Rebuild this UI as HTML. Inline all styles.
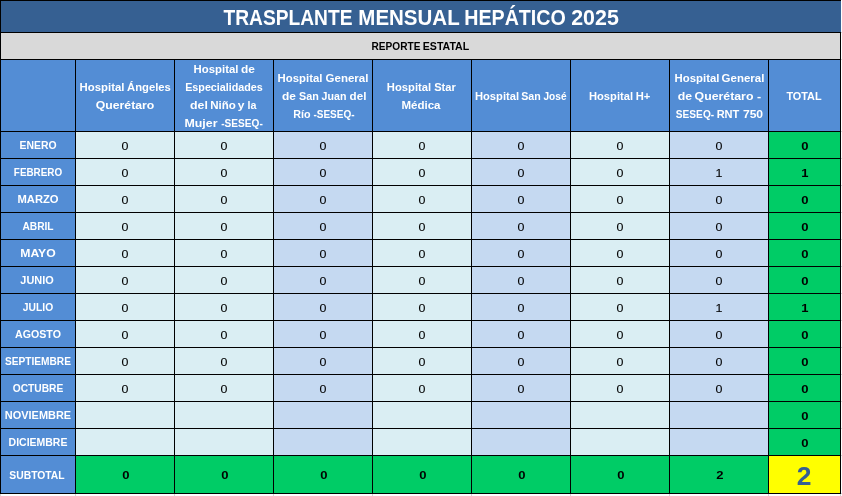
<!DOCTYPE html>
<html lang="es">
<head>
<meta charset="utf-8">
<title>Trasplante mensual hepático 2025</title>
<style>
html,body{margin:0;padding:0;background:#fff;}
body{width:842px;height:496px;overflow:hidden;position:relative;font-family:"Liberation Sans",sans-serif;}
/* 1px black grid lines = the black background showing through 1px gaps */
#t{position:absolute;left:0;top:0;width:839px;height:492px;padding:1px;background:#000;
 display:grid;gap:1px;
 grid-template-columns:74px repeat(7,98px) 71px;
 grid-template-rows:31px 26px 71px repeat(12,26px) 37px;}
#t>div{position:relative;overflow:hidden;}
.l{position:absolute;left:0;right:0;white-space:nowrap;font-weight:700;}
.l i{position:absolute;top:0;display:block;font-style:normal;transform-origin:50% 50%;}
.r{font-weight:400;-webkit-text-stroke:0.1px #000;}
.ti{grid-column:1/-1;background:#366092;color:#fff;margin-right:-1px;}
.re{grid-column:1/-1;background:#d9d9d9;color:#000;}
.h{background:#538dd5;color:#fff;}
.a{background:#daeef3;color:#000;}
.b{background:#c5d9f1;color:#000;}
.g{background:#00cc66;color:#000;}
.y{background:#ffff00;color:#366092;}
/* faint sheet gridlines peeking out past the table edge */
.gb{position:absolute;left:0;top:494px;width:1px;height:2px;background:#d4d4d4;box-shadow:75px 0 0 #d4d4d4,174px 0 0 #d4d4d4,273px 0 0 #d4d4d4,372px 0 0 #d4d4d4,471px 0 0 #d4d4d4,570px 0 0 #d4d4d4,669px 0 0 #d4d4d4,768px 0 0 #d4d4d4,840px 0 0 #d4d4d4;}
.gr{position:absolute;left:841px;top:32px;width:1px;height:1px;background:#d4d4d4;box-shadow:0 27px 0 #d4d4d4,0 99px 0 #d4d4d4,0 126px 0 #d4d4d4,0 153px 0 #d4d4d4,0 180px 0 #d4d4d4,0 207px 0 #d4d4d4,0 234px 0 #d4d4d4,0 261px 0 #d4d4d4,0 288px 0 #d4d4d4,0 315px 0 #d4d4d4,0 342px 0 #d4d4d4,0 369px 0 #d4d4d4,0 396px 0 #d4d4d4,0 423px 0 #d4d4d4,0 461px 0 #d4d4d4;}
</style>
</head>
<body>
<div id="t">
<div class="ti"><span class="l" style="top:3px;height:27px;line-height:27px;font-size:22.5px"><i style="left:286.77px;transform:translateX(-50%) scaleX(0.8529)">TRASPLANTE</i> <i style="left:407.64px;transform:translateX(-50%) scaleX(0.9111)">MENSUAL</i> <i style="left:514.49px;transform:translateX(-50%) scaleX(0.8737)">HEPÁTICO</i> <i style="left:594.05px;transform:translateX(-50%) scaleX(0.9512)">2025</i></span></div>
<div class="re"><span class="l" style="top:6px;height:14px;line-height:14px;font-size:11.58px"><i style="left:394.75px;transform:translateX(-50%) scaleX(0.8733)">REPORTE</i> <i style="left:445.45px;transform:translateX(-50%) scaleX(0.9155)">ESTATAL</i></span></div>
<div class="h"></div>
<div class="h"><span class="l" style="top:20px;height:14px;line-height:14px;font-size:11.58px"><i style="left:26.08px;transform:translateX(-50%) scaleX(0.9823)">Hospital</i> <i style="left:72.74px;transform:translateX(-50%) scaleX(0.9717)">Ángeles</i></span> <span class="l" style="top:38px;height:14px;line-height:14px;font-size:11.58px"><i style="left:49.15px;transform:translateX(-50%) scaleX(1.0581)">Querétaro</i></span></div>
<div class="h"><span class="l" style="top:2px;height:14px;line-height:14px;font-size:11.58px"><i style="left:40.5px;transform:translateX(-50%) scaleX(0.9810)">Hospital</i> <i style="left:72.55px;transform:translateX(-50%) scaleX(1.0285)">de</i></span> <span class="l" style="top:20px;height:14px;line-height:14px;font-size:11.58px"><i style="left:48.6px;transform:translateX(-50%) scaleX(0.9275)">Especialidades</i></span> <span class="l" style="top:38px;height:14px;line-height:14px;font-size:11.58px"><i style="left:23.66px;transform:translateX(-50%) scaleX(1.0644)">del</i> <i style="left:47.96px;transform:translateX(-50%) scaleX(0.9969)">Niño</i> <i style="left:66.34px;transform:translateX(-50%) scaleX(1.0356)">y</i> <i style="left:77.16px;transform:translateX(-50%) scaleX(0.9229)">la</i></span> <span class="l" style="top:56px;height:14px;line-height:14px;font-size:11.58px"><i style="left:26.25px;transform:translateX(-50%) scaleX(1.0675)">Mujer</i> <i style="left:66.5px;transform:translateX(-50%) scaleX(0.8731)">-SESEQ-</i></span></div>
<div class="h"><span class="l" style="top:11px;height:14px;line-height:14px;font-size:11.58px"><i style="left:26.3px;transform:translateX(-50%) scaleX(0.9802)">Hospital</i> <i style="left:73.13px;transform:translateX(-50%) scaleX(0.9917)">General</i></span> <span class="l" style="top:29px;height:14px;line-height:14px;font-size:11.58px"><i style="left:14.73px;transform:translateX(-50%) scaleX(1.0290)">de</i> <i style="left:34.86px;transform:translateX(-50%) scaleX(0.9308)">San</i> <i style="left:59.85px;transform:translateX(-50%) scaleX(0.9166)">Juan</i> <i style="left:83.74px;transform:translateX(-50%) scaleX(1.0015)">del</i></span> <span class="l" style="top:47px;height:14px;line-height:14px;font-size:11.58px"><i style="left:27.76px;transform:translateX(-50%) scaleX(0.9273)">Río</i> <i style="left:60.01px;transform:translateX(-50%) scaleX(0.8662)">-SESEQ-</i></span></div>
<div class="h"><span class="l" style="top:20px;height:14px;line-height:14px;font-size:11.58px"><i style="left:36.25px;transform:translateX(-50%) scaleX(0.9693)">Hospital</i> <i style="left:72.25px;transform:translateX(-50%) scaleX(0.9592)">Star</i></span> <span class="l" style="top:38px;height:14px;line-height:14px;font-size:11.58px"><i style="left:48.28px;transform:translateX(-50%) scaleX(0.9957)">Médica</i></span></div>
<div class="h"><span class="l" style="top:29px;height:14px;line-height:14px;font-size:11.58px"><i style="left:24.52px;transform:translateX(-50%) scaleX(0.9645)">Hospital</i> <i style="left:59.33px;transform:translateX(-50%) scaleX(0.9189)">San</i> <i style="left:83.45px;transform:translateX(-50%) scaleX(0.8714)">José</i></span></div>
<div class="h"><span class="l" style="top:29px;height:14px;line-height:14px;font-size:11.58px"><i style="left:40.35px;transform:translateX(-50%) scaleX(0.9638)">Hospital</i> <i style="left:72.1px;transform:translateX(-50%) scaleX(0.9666)">H+</i></span></div>
<div class="h"><span class="l" style="top:11px;height:14px;line-height:14px;font-size:11.58px"><i style="left:26.64px;transform:translateX(-50%) scaleX(0.9802)">Hospital</i> <i style="left:72.67px;transform:translateX(-50%) scaleX(0.9917)">General</i></span> <span class="l" style="top:29px;height:14px;line-height:14px;font-size:11.58px"><i style="left:14.96px;transform:translateX(-50%) scaleX(1.0603)">de</i> <i style="left:54.2px;transform:translateX(-50%) scaleX(1.0626)">Querétaro</i> <i style="left:88.7px;transform:translateX(-50%) scaleX(1.0754)">-</i></span> <span class="l" style="top:47px;height:14px;line-height:14px;font-size:11.58px"><i style="left:24.57px;transform:translateX(-50%) scaleX(0.8749)">SESEQ-</i> <i style="left:58.45px;transform:translateX(-50%) scaleX(0.9556)">RNT</i> <i style="left:82.66px;transform:translateX(-50%) scaleX(1.0447)">750</i></span></div>
<div class="h"><span class="l" style="top:29px;height:14px;line-height:14px;font-size:11.58px"><i style="left:35.41px;transform:translateX(-50%) scaleX(0.9377)">TOTAL</i></span></div>
<div class="h"><span class="l" style="top:6px;height:14px;line-height:14px;font-size:11.58px"><i style="left:36.51px;transform:translateX(-50%) scaleX(0.8995)">ENERO</i></span></div> <div class="a"><span class="l r" style="top:7px;height:14px;line-height:14px;font-size:11.58px"><i style="left:49px;transform:translateX(-50%) scaleX(1.0742)">0</i></span></div> <div class="a"><span class="l r" style="top:7px;height:14px;line-height:14px;font-size:11.58px"><i style="left:49px;transform:translateX(-50%) scaleX(1.0742)">0</i></span></div> <div class="b"><span class="l r" style="top:7px;height:14px;line-height:14px;font-size:11.58px"><i style="left:49px;transform:translateX(-50%) scaleX(1.0742)">0</i></span></div> <div class="a"><span class="l r" style="top:7px;height:14px;line-height:14px;font-size:11.58px"><i style="left:49px;transform:translateX(-50%) scaleX(1.0742)">0</i></span></div> <div class="b"><span class="l r" style="top:7px;height:14px;line-height:14px;font-size:11.58px"><i style="left:49px;transform:translateX(-50%) scaleX(1.0742)">0</i></span></div> <div class="a"><span class="l r" style="top:7px;height:14px;line-height:14px;font-size:11.58px"><i style="left:49px;transform:translateX(-50%) scaleX(1.0742)">0</i></span></div> <div class="b"><span class="l r" style="top:7px;height:14px;line-height:14px;font-size:11.58px"><i style="left:49px;transform:translateX(-50%) scaleX(1.0742)">0</i></span></div> <div class="g"><span class="l" style="top:7px;height:14px;line-height:14px;font-size:11.58px"><i style="left:35.8px;transform:translateX(-50%) scaleX(1.1254)">0</i></span></div>
<div class="h"><span class="l" style="top:6px;height:14px;line-height:14px;font-size:11.58px"><i style="left:37.23px;transform:translateX(-50%) scaleX(0.8535)">FEBRERO</i></span></div> <div class="a"><span class="l r" style="top:7px;height:14px;line-height:14px;font-size:11.58px"><i style="left:49px;transform:translateX(-50%) scaleX(1.0742)">0</i></span></div> <div class="a"><span class="l r" style="top:7px;height:14px;line-height:14px;font-size:11.58px"><i style="left:49px;transform:translateX(-50%) scaleX(1.0742)">0</i></span></div> <div class="b"><span class="l r" style="top:7px;height:14px;line-height:14px;font-size:11.58px"><i style="left:49px;transform:translateX(-50%) scaleX(1.0742)">0</i></span></div> <div class="a"><span class="l r" style="top:7px;height:14px;line-height:14px;font-size:11.58px"><i style="left:49px;transform:translateX(-50%) scaleX(1.0742)">0</i></span></div> <div class="b"><span class="l r" style="top:7px;height:14px;line-height:14px;font-size:11.58px"><i style="left:49px;transform:translateX(-50%) scaleX(1.0742)">0</i></span></div> <div class="a"><span class="l r" style="top:7px;height:14px;line-height:14px;font-size:11.58px"><i style="left:49px;transform:translateX(-50%) scaleX(1.0742)">0</i></span></div> <div class="b"><span class="l r" style="top:7px;height:14px;line-height:14px;font-size:11.58px"><i style="left:49px;transform:translateX(-50%) scaleX(1.0742)">1</i></span></div> <div class="g"><span class="l" style="top:7px;height:14px;line-height:14px;font-size:11.58px"><i style="left:35.8px;transform:translateX(-50%) scaleX(1.1254)">1</i></span></div>
<div class="h"><span class="l" style="top:6px;height:14px;line-height:14px;font-size:11.58px"><i style="left:37.13px;transform:translateX(-50%) scaleX(0.9698)">MARZO</i></span></div> <div class="a"><span class="l r" style="top:7px;height:14px;line-height:14px;font-size:11.58px"><i style="left:49px;transform:translateX(-50%) scaleX(1.0742)">0</i></span></div> <div class="a"><span class="l r" style="top:7px;height:14px;line-height:14px;font-size:11.58px"><i style="left:49px;transform:translateX(-50%) scaleX(1.0742)">0</i></span></div> <div class="b"><span class="l r" style="top:7px;height:14px;line-height:14px;font-size:11.58px"><i style="left:49px;transform:translateX(-50%) scaleX(1.0742)">0</i></span></div> <div class="a"><span class="l r" style="top:7px;height:14px;line-height:14px;font-size:11.58px"><i style="left:49px;transform:translateX(-50%) scaleX(1.0742)">0</i></span></div> <div class="b"><span class="l r" style="top:7px;height:14px;line-height:14px;font-size:11.58px"><i style="left:49px;transform:translateX(-50%) scaleX(1.0742)">0</i></span></div> <div class="a"><span class="l r" style="top:7px;height:14px;line-height:14px;font-size:11.58px"><i style="left:49px;transform:translateX(-50%) scaleX(1.0742)">0</i></span></div> <div class="b"><span class="l r" style="top:7px;height:14px;line-height:14px;font-size:11.58px"><i style="left:49px;transform:translateX(-50%) scaleX(1.0742)">0</i></span></div> <div class="g"><span class="l" style="top:7px;height:14px;line-height:14px;font-size:11.58px"><i style="left:35.8px;transform:translateX(-50%) scaleX(1.1254)">0</i></span></div>
<div class="h"><span class="l" style="top:6px;height:14px;line-height:14px;font-size:11.58px"><i style="left:36.55px;transform:translateX(-50%) scaleX(0.8818)">ABRIL</i></span></div> <div class="a"><span class="l r" style="top:7px;height:14px;line-height:14px;font-size:11.58px"><i style="left:49px;transform:translateX(-50%) scaleX(1.0742)">0</i></span></div> <div class="a"><span class="l r" style="top:7px;height:14px;line-height:14px;font-size:11.58px"><i style="left:49px;transform:translateX(-50%) scaleX(1.0742)">0</i></span></div> <div class="b"><span class="l r" style="top:7px;height:14px;line-height:14px;font-size:11.58px"><i style="left:49px;transform:translateX(-50%) scaleX(1.0742)">0</i></span></div> <div class="a"><span class="l r" style="top:7px;height:14px;line-height:14px;font-size:11.58px"><i style="left:49px;transform:translateX(-50%) scaleX(1.0742)">0</i></span></div> <div class="b"><span class="l r" style="top:7px;height:14px;line-height:14px;font-size:11.58px"><i style="left:49px;transform:translateX(-50%) scaleX(1.0742)">0</i></span></div> <div class="a"><span class="l r" style="top:7px;height:14px;line-height:14px;font-size:11.58px"><i style="left:49px;transform:translateX(-50%) scaleX(1.0742)">0</i></span></div> <div class="b"><span class="l r" style="top:7px;height:14px;line-height:14px;font-size:11.58px"><i style="left:49px;transform:translateX(-50%) scaleX(1.0742)">0</i></span></div> <div class="g"><span class="l" style="top:7px;height:14px;line-height:14px;font-size:11.58px"><i style="left:35.8px;transform:translateX(-50%) scaleX(1.1254)">0</i></span></div>
<div class="h"><span class="l" style="top:6px;height:14px;line-height:14px;font-size:11.58px"><i style="left:36.56px;transform:translateX(-50%) scaleX(1.0536)">MAYO</i></span></div> <div class="a"><span class="l r" style="top:7px;height:14px;line-height:14px;font-size:11.58px"><i style="left:49px;transform:translateX(-50%) scaleX(1.0742)">0</i></span></div> <div class="a"><span class="l r" style="top:7px;height:14px;line-height:14px;font-size:11.58px"><i style="left:49px;transform:translateX(-50%) scaleX(1.0742)">0</i></span></div> <div class="b"><span class="l r" style="top:7px;height:14px;line-height:14px;font-size:11.58px"><i style="left:49px;transform:translateX(-50%) scaleX(1.0742)">0</i></span></div> <div class="a"><span class="l r" style="top:7px;height:14px;line-height:14px;font-size:11.58px"><i style="left:49px;transform:translateX(-50%) scaleX(1.0742)">0</i></span></div> <div class="b"><span class="l r" style="top:7px;height:14px;line-height:14px;font-size:11.58px"><i style="left:49px;transform:translateX(-50%) scaleX(1.0742)">0</i></span></div> <div class="a"><span class="l r" style="top:7px;height:14px;line-height:14px;font-size:11.58px"><i style="left:49px;transform:translateX(-50%) scaleX(1.0742)">0</i></span></div> <div class="b"><span class="l r" style="top:7px;height:14px;line-height:14px;font-size:11.58px"><i style="left:49px;transform:translateX(-50%) scaleX(1.0742)">0</i></span></div> <div class="g"><span class="l" style="top:7px;height:14px;line-height:14px;font-size:11.58px"><i style="left:35.8px;transform:translateX(-50%) scaleX(1.1254)">0</i></span></div>
<div class="h"><span class="l" style="top:6px;height:14px;line-height:14px;font-size:11.58px"><i style="left:36.18px;transform:translateX(-50%) scaleX(0.9421)">JUNIO</i></span></div> <div class="a"><span class="l r" style="top:7px;height:14px;line-height:14px;font-size:11.58px"><i style="left:49px;transform:translateX(-50%) scaleX(1.0742)">0</i></span></div> <div class="a"><span class="l r" style="top:7px;height:14px;line-height:14px;font-size:11.58px"><i style="left:49px;transform:translateX(-50%) scaleX(1.0742)">0</i></span></div> <div class="b"><span class="l r" style="top:7px;height:14px;line-height:14px;font-size:11.58px"><i style="left:49px;transform:translateX(-50%) scaleX(1.0742)">0</i></span></div> <div class="a"><span class="l r" style="top:7px;height:14px;line-height:14px;font-size:11.58px"><i style="left:49px;transform:translateX(-50%) scaleX(1.0742)">0</i></span></div> <div class="b"><span class="l r" style="top:7px;height:14px;line-height:14px;font-size:11.58px"><i style="left:49px;transform:translateX(-50%) scaleX(1.0742)">0</i></span></div> <div class="a"><span class="l r" style="top:7px;height:14px;line-height:14px;font-size:11.58px"><i style="left:49px;transform:translateX(-50%) scaleX(1.0742)">0</i></span></div> <div class="b"><span class="l r" style="top:7px;height:14px;line-height:14px;font-size:11.58px"><i style="left:49px;transform:translateX(-50%) scaleX(1.0742)">0</i></span></div> <div class="g"><span class="l" style="top:7px;height:14px;line-height:14px;font-size:11.58px"><i style="left:35.8px;transform:translateX(-50%) scaleX(1.1254)">0</i></span></div>
<div class="h"><span class="l" style="top:6px;height:14px;line-height:14px;font-size:11.58px"><i style="left:37.3px;transform:translateX(-50%) scaleX(0.8886)">JULIO</i></span></div> <div class="a"><span class="l r" style="top:7px;height:14px;line-height:14px;font-size:11.58px"><i style="left:49px;transform:translateX(-50%) scaleX(1.0742)">0</i></span></div> <div class="a"><span class="l r" style="top:7px;height:14px;line-height:14px;font-size:11.58px"><i style="left:49px;transform:translateX(-50%) scaleX(1.0742)">0</i></span></div> <div class="b"><span class="l r" style="top:7px;height:14px;line-height:14px;font-size:11.58px"><i style="left:49px;transform:translateX(-50%) scaleX(1.0742)">0</i></span></div> <div class="a"><span class="l r" style="top:7px;height:14px;line-height:14px;font-size:11.58px"><i style="left:49px;transform:translateX(-50%) scaleX(1.0742)">0</i></span></div> <div class="b"><span class="l r" style="top:7px;height:14px;line-height:14px;font-size:11.58px"><i style="left:49px;transform:translateX(-50%) scaleX(1.0742)">0</i></span></div> <div class="a"><span class="l r" style="top:7px;height:14px;line-height:14px;font-size:11.58px"><i style="left:49px;transform:translateX(-50%) scaleX(1.0742)">0</i></span></div> <div class="b"><span class="l r" style="top:7px;height:14px;line-height:14px;font-size:11.58px"><i style="left:49px;transform:translateX(-50%) scaleX(1.0742)">1</i></span></div> <div class="g"><span class="l" style="top:7px;height:14px;line-height:14px;font-size:11.58px"><i style="left:35.8px;transform:translateX(-50%) scaleX(1.1254)">1</i></span></div>
<div class="h"><span class="l" style="top:6px;height:14px;line-height:14px;font-size:11.58px"><i style="left:37px;transform:translateX(-50%) scaleX(0.9176)">AGOSTO</i></span></div> <div class="a"><span class="l r" style="top:7px;height:14px;line-height:14px;font-size:11.58px"><i style="left:49px;transform:translateX(-50%) scaleX(1.0742)">0</i></span></div> <div class="a"><span class="l r" style="top:7px;height:14px;line-height:14px;font-size:11.58px"><i style="left:49px;transform:translateX(-50%) scaleX(1.0742)">0</i></span></div> <div class="b"><span class="l r" style="top:7px;height:14px;line-height:14px;font-size:11.58px"><i style="left:49px;transform:translateX(-50%) scaleX(1.0742)">0</i></span></div> <div class="a"><span class="l r" style="top:7px;height:14px;line-height:14px;font-size:11.58px"><i style="left:49px;transform:translateX(-50%) scaleX(1.0742)">0</i></span></div> <div class="b"><span class="l r" style="top:7px;height:14px;line-height:14px;font-size:11.58px"><i style="left:49px;transform:translateX(-50%) scaleX(1.0742)">0</i></span></div> <div class="a"><span class="l r" style="top:7px;height:14px;line-height:14px;font-size:11.58px"><i style="left:49px;transform:translateX(-50%) scaleX(1.0742)">0</i></span></div> <div class="b"><span class="l r" style="top:7px;height:14px;line-height:14px;font-size:11.58px"><i style="left:49px;transform:translateX(-50%) scaleX(1.0742)">0</i></span></div> <div class="g"><span class="l" style="top:7px;height:14px;line-height:14px;font-size:11.58px"><i style="left:35.8px;transform:translateX(-50%) scaleX(1.1254)">0</i></span></div>
<div class="h"><span class="l" style="top:6px;height:14px;line-height:14px;font-size:11.58px"><i style="left:36.6px;transform:translateX(-50%) scaleX(0.8758)">SEPTIEMBRE</i></span></div> <div class="a"><span class="l r" style="top:7px;height:14px;line-height:14px;font-size:11.58px"><i style="left:49px;transform:translateX(-50%) scaleX(1.0742)">0</i></span></div> <div class="a"><span class="l r" style="top:7px;height:14px;line-height:14px;font-size:11.58px"><i style="left:49px;transform:translateX(-50%) scaleX(1.0742)">0</i></span></div> <div class="b"><span class="l r" style="top:7px;height:14px;line-height:14px;font-size:11.58px"><i style="left:49px;transform:translateX(-50%) scaleX(1.0742)">0</i></span></div> <div class="a"><span class="l r" style="top:7px;height:14px;line-height:14px;font-size:11.58px"><i style="left:49px;transform:translateX(-50%) scaleX(1.0742)">0</i></span></div> <div class="b"><span class="l r" style="top:7px;height:14px;line-height:14px;font-size:11.58px"><i style="left:49px;transform:translateX(-50%) scaleX(1.0742)">0</i></span></div> <div class="a"><span class="l r" style="top:7px;height:14px;line-height:14px;font-size:11.58px"><i style="left:49px;transform:translateX(-50%) scaleX(1.0742)">0</i></span></div> <div class="b"><span class="l r" style="top:7px;height:14px;line-height:14px;font-size:11.58px"><i style="left:49px;transform:translateX(-50%) scaleX(1.0742)">0</i></span></div> <div class="g"><span class="l" style="top:7px;height:14px;line-height:14px;font-size:11.58px"><i style="left:35.8px;transform:translateX(-50%) scaleX(1.1254)">0</i></span></div>
<div class="h"><span class="l" style="top:6px;height:14px;line-height:14px;font-size:11.58px"><i style="left:37.15px;transform:translateX(-50%) scaleX(0.8836)">OCTUBRE</i></span></div> <div class="a"><span class="l r" style="top:7px;height:14px;line-height:14px;font-size:11.58px"><i style="left:49px;transform:translateX(-50%) scaleX(1.0742)">0</i></span></div> <div class="a"><span class="l r" style="top:7px;height:14px;line-height:14px;font-size:11.58px"><i style="left:49px;transform:translateX(-50%) scaleX(1.0742)">0</i></span></div> <div class="b"><span class="l r" style="top:7px;height:14px;line-height:14px;font-size:11.58px"><i style="left:49px;transform:translateX(-50%) scaleX(1.0742)">0</i></span></div> <div class="a"><span class="l r" style="top:7px;height:14px;line-height:14px;font-size:11.58px"><i style="left:49px;transform:translateX(-50%) scaleX(1.0742)">0</i></span></div> <div class="b"><span class="l r" style="top:7px;height:14px;line-height:14px;font-size:11.58px"><i style="left:49px;transform:translateX(-50%) scaleX(1.0742)">0</i></span></div> <div class="a"><span class="l r" style="top:7px;height:14px;line-height:14px;font-size:11.58px"><i style="left:49px;transform:translateX(-50%) scaleX(1.0742)">0</i></span></div> <div class="b"><span class="l r" style="top:7px;height:14px;line-height:14px;font-size:11.58px"><i style="left:49px;transform:translateX(-50%) scaleX(1.0742)">0</i></span></div> <div class="g"><span class="l" style="top:7px;height:14px;line-height:14px;font-size:11.58px"><i style="left:35.8px;transform:translateX(-50%) scaleX(1.1254)">0</i></span></div>
<div class="h"><span class="l" style="top:6px;height:14px;line-height:14px;font-size:11.58px"><i style="left:37.48px;transform:translateX(-50%) scaleX(0.9452)">NOVIEMBRE</i></span></div> <div class="a"></div> <div class="a"></div> <div class="b"></div> <div class="a"></div> <div class="b"></div> <div class="a"></div> <div class="b"></div> <div class="g"><span class="l" style="top:7px;height:14px;line-height:14px;font-size:11.58px"><i style="left:35.8px;transform:translateX(-50%) scaleX(1.1254)">0</i></span></div>
<div class="h"><span class="l" style="top:6px;height:14px;line-height:14px;font-size:11.58px"><i style="left:37.37px;transform:translateX(-50%) scaleX(0.9055)">DICIEMBRE</i></span></div> <div class="a"></div> <div class="a"></div> <div class="b"></div> <div class="a"></div> <div class="b"></div> <div class="a"></div> <div class="b"></div> <div class="g"><span class="l" style="top:7px;height:14px;line-height:14px;font-size:11.58px"><i style="left:35.8px;transform:translateX(-50%) scaleX(1.1254)">0</i></span></div>
<div class="h"><span class="l" style="top:12px;height:14px;line-height:14px;font-size:11.58px"><i style="left:36.2px;transform:translateX(-50%) scaleX(0.8921)">SUBTOTAL</i></span></div> <div class="g"><span class="l" style="top:12px;height:14px;line-height:14px;font-size:11.58px"><i style="left:49.75px;transform:translateX(-50%) scaleX(1.1254)">0</i></span></div> <div class="g"><span class="l" style="top:12px;height:14px;line-height:14px;font-size:11.58px"><i style="left:49.75px;transform:translateX(-50%) scaleX(1.1254)">0</i></span></div> <div class="g"><span class="l" style="top:12px;height:14px;line-height:14px;font-size:11.58px"><i style="left:49.75px;transform:translateX(-50%) scaleX(1.1254)">0</i></span></div> <div class="g"><span class="l" style="top:12px;height:14px;line-height:14px;font-size:11.58px"><i style="left:49.75px;transform:translateX(-50%) scaleX(1.1254)">0</i></span></div> <div class="g"><span class="l" style="top:12px;height:14px;line-height:14px;font-size:11.58px"><i style="left:49.75px;transform:translateX(-50%) scaleX(1.1254)">0</i></span></div> <div class="g"><span class="l" style="top:12px;height:14px;line-height:14px;font-size:11.58px"><i style="left:49.75px;transform:translateX(-50%) scaleX(1.1254)">0</i></span></div> <div class="g"><span class="l" style="top:12px;height:14px;line-height:14px;font-size:11.58px"><i style="left:49.75px;transform:translateX(-50%) scaleX(1.1254)">2</i></span></div> <div class="y"><span class="l" style="top:5px;height:30px;line-height:30px;font-size:25.83px"><i style="left:35.05px;transform:translateX(-50%) scaleX(1.0232)">2</i></span></div>
</div>
<div class="gb"></div><div class="gr"></div>
</body>
</html>
